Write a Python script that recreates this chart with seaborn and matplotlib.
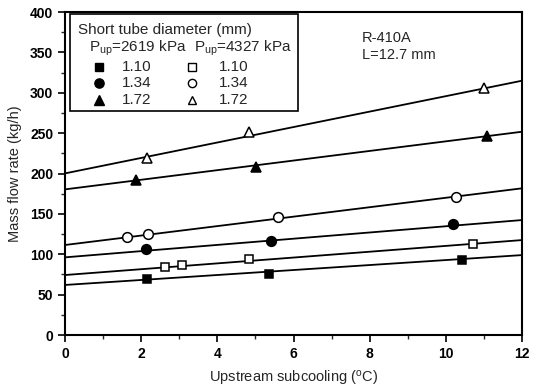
import numpy as np
import pandas as pd
import matplotlib
matplotlib.use("Agg")
import matplotlib.pyplot as plt
import seaborn as sns

# ---- data ----
sq_f_x = [2.15, 5.36, 10.43]
sq_f_y = [69.3, 75.9, 92.5]
sq_o_x = [2.63, 3.08, 4.83, 10.71]
sq_o_y = [83.8, 86.3, 93.7, 113.0]
ci_f_x = [2.13, 5.40, 10.20]
ci_f_y = [106.5, 116.8, 137.0]
ci_o_x = [1.64, 2.19, 5.58, 10.26]
ci_o_y = [121.0, 125.4, 146.0, 171.0]
tr_f_x = [1.86, 5.02, 11.09]
tr_f_y = [192.0, 208.0, 247.0]
tr_o_x = [2.16, 4.84, 10.99]
tr_o_y = [219.5, 251.0, 305.5]

# fitted lines: values at x = 0 and x = 12
fit_x = [0, 12]
fit_sq_f = [62.0, 99.0]
fit_sq_o = [74.3, 117.6]
fit_ci_f = [96.2, 142.4]
fit_ci_o = [111.5, 181.7]
fit_tr_f = [180.4, 251.8]
fit_tr_o = [200.2, 315.0]

x_ticks = [0, 2, 4, 6, 8, 10, 12]
y_ticks = [0, 50, 100, 150, 200, 250, 300, 350, 400]

sns.set_theme(style="ticks")
plt.rcParams['font.family'] = ['Liberation Sans', 'DejaVu Sans']
plt.rcParams['mathtext.default'] = 'regular'

fig = plt.figure(figsize=(5.39, 3.90), dpi=100)
ax = fig.add_axes([0.1206, 0.141, 0.8479, 0.828])

for fy in [fit_sq_f, fit_sq_o, fit_ci_f, fit_ci_o, fit_tr_f, fit_tr_o]:
    sns.lineplot(x=fit_x, y=fy, ax=ax, color='black', lw=1.3, zorder=2)

series = [
    (sq_f_x, sq_f_y, 's', 'black', 6.0),
    (sq_o_x, sq_o_y, 's', 'white', 6.0),
    (ci_f_x, ci_f_y, 'o', 'black', 7.0),
    (ci_o_x, ci_o_y, 'o', 'white', 7.0),
    (tr_f_x, tr_f_y, '^', 'black', 7.5),
    (tr_o_x, tr_o_y, '^', 'white', 7.5),
]
for xs, ys, m, fc, ms in series:
    ax.plot(xs, ys, linestyle='none', marker=m, markerfacecolor=fc,
            markeredgecolor='black', markeredgewidth=1.1, markersize=ms, zorder=3)

ax.set_xlim(0, 12)
ax.set_ylim(0, 400)
ax.set_xticks(x_ticks)
ax.set_yticks(y_ticks)
ax.set_xticks(np.arange(1, 12, 2), minor=True)
ax.set_yticks(np.arange(25, 400, 50), minor=True)
ax.tick_params(axis='both', which='major', direction='out', length=5, width=1.2,
               labelsize=10, colors='black')
ax.tick_params(axis='both', which='minor', direction='out', length=3, width=1.0)
for lab in ax.get_xticklabels() + ax.get_yticklabels():
    lab.set_fontweight('bold')
for s in ax.spines.values():
    s.set_linewidth(1.5)
    s.set_color('black')

ax.set_xlabel('Upstream subcooling ($^{o}$C)', fontsize=10.5, labelpad=6)
ax.set_ylabel('Mass flow rate (kg/h)', fontsize=10.5, labelpad=6)

# legend box drawn manually
T = ax.transAxes
ax.add_patch(plt.Rectangle((0.01, 0.693), 0.50, 0.300, transform=T,
                           facecolor='white', edgecolor='black', lw=1.2, zorder=4))
ax.text(0.029, 0.946, 'Short tube diameter (mm)', transform=T, fontsize=11,
        va='center', ha='left', zorder=5)
ax.text(0.052, 0.888, 'P$_{up}$=2619 kPa', transform=T, fontsize=11,
        va='center', ha='left', zorder=5)
ax.text(0.282, 0.888, 'P$_{up}$=4327 kPa', transform=T, fontsize=11,
        va='center', ha='left', zorder=5)
rows_y = [0.830, 0.779, 0.728]
labels = ['1.10', '1.34', '1.72']
mk = [('s', 6.0), ('o', 7.0), ('^', 7.5)]
for ry, lab, (m, ms) in zip(rows_y, labels, mk):
    ax.plot([0.075], [ry], transform=T, marker=m, markersize=ms * 0.95,
            markerfacecolor='black', markeredgecolor='black', linestyle='none',
            zorder=5, clip_on=False)
    ax.plot([0.277], [ry], transform=T, marker=m, markersize=ms * 0.85,
            markerfacecolor='white', markeredgecolor='black', markeredgewidth=1.0,
            linestyle='none', zorder=5, clip_on=False)
    ax.text(0.124, ry, lab, transform=T, fontsize=11, va='center', ha='left', zorder=5)
    ax.text(0.336, ry, lab, transform=T, fontsize=11, va='center', ha='left', zorder=5)

ax.text(0.65, 0.92, 'R-410A', transform=T, fontsize=10.5, va='center', ha='left')
ax.text(0.65, 0.867, 'L=12.7 mm', transform=T, fontsize=10.5, va='center', ha='left')

fig.savefig('out.png', dpi=100)
